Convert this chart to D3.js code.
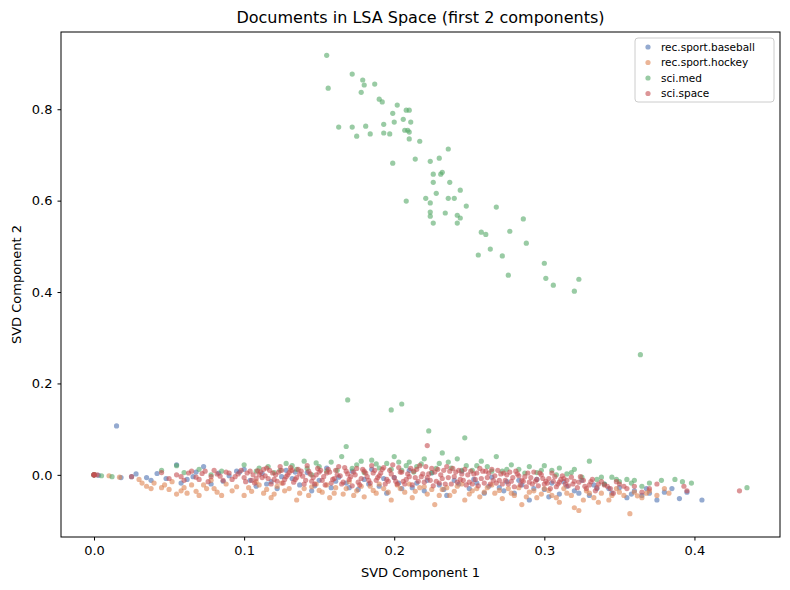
<!DOCTYPE html>
<html><head><meta charset="utf-8">
<script src="https://cdn.jsdelivr.net/npm/d3@7"></script>
<style>body{margin:0;background:#fff;font-family:"DejaVu Sans",sans-serif}</style>
</head><body><svg id="c" width="790" height="590"></svg>
<script>
const categories = ["rec.sport.baseball","rec.sport.hockey","sci.med","sci.space"];
const colors = ["#4c72b0","#dd8452","#55a868","#c44e52"];
const xTicks = [0.0,0.1,0.2,0.3,0.4];
const yTicks = [0.0,0.2,0.4,0.6,0.8];

const baseballPts = [[0,0],[0,0],[0.003,-0.001],[0.015,0.107],[0.018,-0.006],[0.025,-0.004],[0.028,0.002],[0.038,-0.012],[0.042,0.003],[0.048,-0.008],[0.055,0.022],[0.062,-0.01],[0.068,0.006],[0.073,0.018],[0.078,-0.02],[0.083,0.004],[0.09,-0.002],[0.095,0.008],[0.1,0.012],[0.104,-0.012],[0.108,-0.025],[0.112,0.003],[0.118,-0.015],[0.122,-0.03],[0.128,0.01],[0.132,-0.008],[0.137,-0.022],[0.142,0.005],[0.145,-0.035],[0.15,-0.012],[0.155,0.015],[0.158,-0.028],[0.163,-0.005],[0.168,-0.018],[0.172,0.008],[0.176,-0.032],[0.18,-0.01],[0.185,0.012],[0.19,-0.025],[0.195,-0.04],[0.2,-0.006],[0.205,-0.03],[0.21,0.01],[0.215,-0.018],[0.22,-0.035],[0.225,0.004],[0.23,-0.022],[0.235,-0.045],[0.24,-0.012],[0.245,0.008],[0.25,-0.03],[0.255,-0.018],[0.26,-0.04],[0.265,-0.005],[0.27,-0.028],[0.275,-0.015],[0.28,-0.04],[0.285,-0.022],[0.29,-0.055],[0.295,-0.01],[0.3,-0.032],[0.305,-0.018],[0.31,-0.042],[0.315,-0.025],[0.32,-0.035],[0.325,-0.012],[0.33,-0.045],[0.335,-0.03],[0.34,-0.02],[0.345,-0.04],[0.35,-0.028],[0.355,-0.05],[0.36,-0.035],[0.365,-0.045],[0.37,-0.04],[0.375,-0.055],[0.38,-0.038],[0.385,-0.03],[0.39,-0.052],[0.395,-0.038],[0.405,-0.055],
[0.035,-0.006],[0.058,-0.018],[0.066,-0.004],[0.086,-0.014],[0.097,0.006],[0.115,-0.02],[0.125,-0.004],[0.134,0.006],[0.147,-0.024],[0.161,-0.014],[0.17,-0.028],[0.183,-0.02],[0.193,-0.008],[0.203,-0.018],[0.212,-0.028],[0.222,-0.012],[0.233,-0.032],[0.243,-0.02],[0.253,-0.01],[0.263,-0.025],[0.273,-0.035],[0.283,-0.012],[0.293,-0.03],[0.303,-0.048],[0.313,-0.015],[0.323,-0.04],[0.333,-0.022],[0.343,-0.03],[0.358,-0.042],[0.368,-0.03]];

const hockeyPts = [[0,0],[0,0],[0.01,-0.002],[0.017,-0.005],[0.03,-0.01],[0.035,-0.025],[0.04,-0.018],[0.045,-0.028],[0.05,-0.032],[0.052,-0.015],[0.058,-0.035],[0.062,-0.04],[0.065,-0.022],[0.07,-0.045],[0.075,-0.03],[0.078,-0.012],[0.082,-0.038],[0.088,-0.02],[0.092,-0.035],[0.1,-0.045],[0.103,-0.028],[0.108,-0.015],[0.113,-0.04],[0.118,-0.05],[0.122,-0.025],[0.127,-0.035],[0.131,0.01],[0.135,-0.055],[0.14,-0.03],[0.143,-0.045],[0.148,-0.02],[0.152,-0.038],[0.157,-0.05],[0.161,-0.028],[0.166,-0.042],[0.17,-0.015],[0.175,-0.035],[0.18,-0.048],[0.184,-0.025],[0.188,-0.04],[0.193,-0.03],[0.198,-0.055],[0.202,-0.022],[0.207,-0.038],[0.212,-0.05],[0.217,-0.028],[0.222,-0.042],[0.227,-0.065],[0.232,-0.032],[0.237,-0.045],[0.242,-0.025],[0.247,-0.055],[0.252,-0.035],[0.257,-0.048],[0.262,-0.028],[0.267,-0.04],[0.272,-0.052],[0.276,-0.03],[0.28,-0.045],[0.285,-0.065],[0.29,-0.038],[0.295,-0.05],[0.3,-0.03],[0.305,-0.045],[0.31,-0.06],[0.315,-0.04],[0.32,-0.072],[0.323,-0.078],[0.328,-0.035],[0.333,-0.05],[0.338,-0.04],[0.343,-0.055],[0.348,-0.03],[0.353,-0.045],[0.357,-0.085],[0.36,-0.038],[0.365,-0.05],[0.37,-0.035],[0.375,-0.045],[0.38,-0.03],[0.383,-0.04],
[0.032,-0.018],[0.038,-0.03],[0.047,-0.022],[0.055,-0.042],[0.06,-0.028],[0.068,-0.036],[0.073,-0.022],[0.08,-0.03],[0.085,-0.045],[0.095,-0.026],[0.105,-0.036],[0.11,-0.022],[0.115,-0.032],[0.12,-0.042],[0.125,-0.018],[0.13,-0.03],[0.137,-0.04],[0.145,-0.026],[0.15,-0.034],[0.155,-0.022],[0.16,-0.04],[0.168,-0.03],[0.173,-0.045],[0.178,-0.025],[0.186,-0.034],[0.19,-0.02],[0.196,-0.038],[0.204,-0.03],[0.21,-0.02],[0.214,-0.036],[0.22,-0.026],[0.225,-0.032],[0.23,-0.045],[0.235,-0.028],[0.24,-0.036],[0.245,-0.02],[0.25,-0.042],[0.255,-0.03],[0.26,-0.038],[0.265,-0.022],[0.27,-0.034],[0.278,-0.04],[0.283,-0.028],[0.288,-0.048],[0.293,-0.035],[0.298,-0.042],[0.303,-0.034],[0.308,-0.05],[0.313,-0.03],[0.318,-0.045],[0.326,-0.055],[0.33,-0.04],[0.336,-0.06],[0.345,-0.045],[0.35,-0.038],[0.362,-0.046],[0.368,-0.04]];

const medPts = [[0,0],[0.005,-0.002],[0.012,-0.004],[0.045,0.01],[0.055,0.02],[0.06,0.005],[0.07,0.012],[0.078,0.0],[0.085,0.008],[0.1,0.022],[0.11,0.015],[0.12,0.005],[0.128,0.025],[0.135,0.012],[0.14,0.03],[0.145,0.0],[0.15,0.018],[0.158,0.028],[0.162,0.01],[0.165,0.04],[0.168,0.062],[0.175,0.022],[0.18,0.005],[0.185,0.032],[0.19,0.015],[0.195,0.025],[0.2,0.04],[0.205,0.01],[0.21,0.028],[0.215,0.018],[0.22,0.035],[0.225,0.005],[0.23,0.025],[0.232,0.048],[0.238,0.015],[0.242,0.035],[0.248,0.02],[0.252,0.01],[0.258,0.03],[0.262,0.018],[0.268,0.04],[0.272,0.008],[0.278,0.022],[0.283,0.012],[0.29,0.018],[0.295,0.005],[0.3,0.02],[0.305,0.01],[0.31,0.015],[0.315,0.002],[0.32,0.012],[0.325,-0.005],[0.33,0.03],[0.335,-0.01],[0.34,-0.02],[0.345,-0.005],[0.35,-0.015],[0.355,-0.01],[0.36,-0.012],[0.365,-0.025],[0.37,-0.018],[0.378,-0.012],[0.387,-0.01],[0.392,-0.015],[0.398,-0.018],[0.435,-0.028],
[0.108,0.008],[0.116,0.018],[0.124,0.01],[0.132,0.02],[0.142,0.014],[0.148,0.026],[0.155,0.008],[0.172,0.014],[0.178,0.03],[0.188,0.024],[0.198,0.012],[0.203,0.028],[0.208,0.02],[0.213,0.006],[0.218,0.024],[0.228,0.014],[0.236,0.028],[0.245,0.01],[0.255,0.02],[0.265,0.008],[0.275,0.012],[0.287,0.004],[0.298,0.01],[0.308,0.0],[0.318,0.005],[0.338,-0.005],[0.348,-0.01],[0.358,-0.018],
[0.169,0.164],[0.198,0.142],[0.205,0.155],[0.223,0.096],[0.247,0.081],[0.364,0.263],
[0.155,0.918],[0.172,0.877],[0.179,0.864],[0.180,0.853],[0.187,0.855],[0.156,0.846],[0.178,0.837],[0.190,0.822],[0.192,0.816],[0.202,0.809],[0.199,0.791],[0.208,0.798],[0.210,0.798],[0.206,0.778],[0.211,0.772],[0.200,0.772],[0.193,0.767],[0.163,0.761],[0.172,0.761],[0.181,0.763],[0.207,0.754],[0.209,0.754],[0.210,0.750],[0.175,0.741],[0.184,0.746],[0.193,0.748],[0.197,0.746],[0.210,0.735],[0.217,0.730],[0.236,0.713],[0.230,0.693],[0.214,0.691],[0.224,0.686],[0.199,0.682],[0.232,0.662],[0.231,0.658],[0.226,0.658],[0.226,0.640],[0.237,0.640],[0.244,0.623],[0.228,0.616],[0.221,0.605],[0.236,0.605],[0.240,0.605],[0.224,0.595],[0.208,0.599],[0.248,0.588],[0.268,0.586],[0.224,0.575],[0.224,0.566],[0.234,0.573],[0.242,0.568],[0.244,0.562],[0.226,0.551],[0.242,0.551],[0.286,0.560],[0.258,0.531],[0.261,0.526],[0.277,0.533],[0.288,0.507],[0.264,0.494],[0.256,0.481],[0.272,0.479],[0.300,0.463],[0.276,0.437],[0.301,0.430],[0.323,0.428],[0.306,0.415],[0.320,0.402]];

const spacePts = [[0,0],[0,0],[0,0],[0.002,0],[0.025,-0.004],[0.045,0.005],[0.05,-0.008],[0.055,0.0],[0.06,-0.012],[0.065,0.008],[0.068,-0.005],[0.072,0.003],[0.076,-0.015],[0.08,0.01],[0.084,-0.003],[0.088,0.006],[0.092,-0.01],[0.096,0.002],[0.1,-0.006],[0.104,0.008],[0.107,-0.018],[0.11,0.0],[0.113,0.012],[0.116,-0.008],[0.119,0.004],[0.122,-0.014],[0.125,0.01],[0.128,-0.004],[0.131,0.016],[0.134,-0.01],[0.137,0.002],[0.14,-0.02],[0.143,0.008],[0.146,-0.006],[0.149,0.014],[0.152,-0.012],[0.155,0.004],[0.158,-0.018],[0.161,0.01],[0.164,-0.002],[0.167,0.016],[0.17,-0.01],[0.173,0.006],[0.176,-0.016],[0.179,0.012],[0.182,-0.004],[0.185,0.02],[0.188,-0.012],[0.191,0.004],[0.194,-0.02],[0.197,0.01],[0.2,-0.006],[0.203,0.016],[0.206,-0.014],[0.209,0.002],[0.212,-0.022],[0.215,0.012],[0.218,-0.004],[0.221,0.018],[0.222,0.064],[0.224,-0.012],[0.227,0.006],[0.23,-0.018],[0.233,0.01],[0.236,-0.006],[0.239,0.014],[0.242,-0.016],[0.245,0.002],[0.248,-0.022],[0.251,0.008],[0.254,-0.01],[0.257,0.014],[0.26,-0.018],[0.263,0.004],[0.266,-0.012],[0.269,0.01],[0.272,-0.02],[0.275,0.0],[0.278,-0.014],[0.281,0.008],[0.284,-0.022],[0.287,-0.004],[0.29,-0.016],[0.293,0.006],[0.296,-0.024],[0.299,-0.008],[0.302,-0.018],[0.305,0.004],[0.308,-0.026],[0.311,-0.01],[0.314,-0.02],[0.318,-0.005],[0.322,-0.028],[0.326,-0.012],[0.33,-0.022],[0.334,-0.035],[0.338,-0.015],[0.342,-0.025],[0.346,-0.04],[0.35,-0.02],[0.355,-0.03],[0.36,-0.025],[0.365,-0.038],[0.37,-0.03],[0.375,-0.02],[0.393,-0.025],[0.395,-0.035],[0.43,-0.035],
[0.102,0.004],[0.105,-0.012],[0.109,0.009],[0.112,-0.006],[0.115,0.015],[0.118,-0.02],[0.121,0.0],[0.124,0.018],[0.127,-0.01],[0.13,0.005],[0.133,-0.016],[0.136,0.012],[0.139,-0.003],[0.142,0.02],[0.145,-0.014],[0.148,0.0],[0.151,0.01],[0.154,-0.022],[0.157,0.006],[0.16,-0.008],[0.163,0.018],[0.166,-0.016],[0.169,0.002],[0.172,-0.024],[0.175,0.014],[0.178,-0.008],[0.181,0.004],[0.184,-0.018],[0.187,0.01],[0.19,-0.002],[0.193,0.016],[0.196,-0.014],[0.199,0.022],[0.202,-0.02],[0.205,0.006],[0.208,-0.01],[0.211,0.014],[0.214,-0.006],[0.217,0.02],[0.22,-0.016],[0.223,0.002],[0.226,-0.024],[0.229,0.012],[0.232,-0.008],[0.235,0.018],[0.238,-0.02],[0.241,0.006],[0.244,-0.01],[0.247,0.012],[0.25,-0.016],[0.253,0.002],[0.256,-0.024],[0.259,0.008],[0.262,-0.006],[0.265,0.012],[0.268,-0.018],[0.271,0.002],[0.274,-0.012],[0.277,0.006],[0.28,-0.026],[0.283,-0.002],[0.286,-0.014],[0.289,0.004],[0.292,-0.02],[0.295,-0.01],[0.298,0.0],[0.301,-0.014],[0.304,-0.03],[0.307,-0.004],[0.31,-0.016],[0.313,-0.008],[0.316,-0.024],[0.32,-0.014],[0.324,-0.004],[0.328,-0.03],[0.332,-0.01],[0.336,-0.02],
[0.058,-0.004],[0.063,0.004],[0.07,-0.01],[0.074,0.008],[0.078,-0.004],[0.082,0.002],[0.086,-0.012],[0.09,0.004],[0.094,-0.004],[0.098,0.01],[0.101,-0.015],[0.106,0.0],[0.108,-0.008],[0.111,0.006],[0.114,-0.002],[0.117,0.01],[0.12,-0.01],[0.123,0.006],[0.126,-0.018],[0.129,0.0],[0.132,0.01],[0.135,-0.006],[0.138,0.008],[0.141,-0.012],[0.144,0.002],[0.147,-0.02],[0.15,0.006],[0.153,-0.004],[0.156,0.012],[0.159,-0.01],[0.162,0.0],[0.165,-0.02],[0.168,0.008],[0.171,-0.004],[0.174,0.0],[0.177,-0.022],[0.18,0.008],[0.183,-0.012],[0.186,0.004],[0.189,-0.006],[0.192,0.012],[0.195,-0.01],[0.198,0.002],[0.201,-0.014],[0.204,0.006],[0.207,-0.02],[0.21,-0.004],[0.213,0.008],[0.216,-0.014],[0.219,0.002],[0.222,-0.006],[0.225,0.014],[0.228,-0.014],[0.231,0.0],[0.234,-0.02],[0.237,0.008],[0.24,-0.004],[0.243,0.01],[0.246,-0.012],[0.249,0.0],[0.252,-0.02],[0.255,0.004],[0.258,-0.008],[0.261,0.008],[0.264,-0.02],[0.267,-0.002],[0.27,-0.012],[0.273,0.004],[0.276,-0.02],[0.279,-0.006],[0.282,0.002],[0.285,-0.012],[0.288,-0.026],[0.291,-0.006],[0.294,-0.014],[0.297,0.004],[0.3,-0.02],[0.303,-0.008],[0.306,-0.014],[0.309,-0.02],[0.312,-0.002],[0.315,-0.012],[0.319,-0.02],[0.323,-0.016],[0.327,-0.025],[0.331,-0.015],[0.335,-0.028],[0.34,-0.022],[0.344,-0.03],[0.348,-0.015],[0.353,-0.025]];

const seriesPts = [baseballPts, hockeyPts, medPts, spacePts];

const svg = d3.select("#c");
const L=61, T=32, R=780, B=537;
const x = d3.scaleLinear().domain([-0.022,0.457]).range([L,R]);
const y = d3.scaleLinear().domain([-0.136,0.969]).range([B,T]);

seriesPts.forEach((pts,i)=>{
  svg.append("g").selectAll("circle").data(pts).join("circle")
    .attr("cx",d=>x(d[0])).attr("cy",d=>y(d[1])).attr("r",2.6)
    .attr("fill",colors[i]).attr("fill-opacity",0.6);
});

const fmt = d3.format(".1f");
const gx = svg.append("g").attr("transform",`translate(0,${B})`)
  .call(d3.axisBottom(x).tickValues(xTicks).tickFormat(fmt).tickSizeOuter(0).tickSize(3.5).tickPadding(5));
const gy = svg.append("g").attr("transform",`translate(${L},0)`)
  .call(d3.axisLeft(y).tickValues(yTicks).tickFormat(fmt).tickSizeOuter(0).tickSize(3.5).tickPadding(5));
[gx,gy].forEach(g=>{g.select(".domain").remove();g.selectAll("text").attr("font-size",13).attr("font-family","DejaVu Sans").attr("fill","#000");g.selectAll("line").attr("stroke","#000");});
svg.append("rect").attr("x",L).attr("y",T).attr("width",R-L).attr("height",B-T).attr("fill","none").attr("stroke","#000").attr("stroke-width",1);

svg.append("text").attr("x",(L+R)/2).attr("y",23).attr("text-anchor","middle").attr("font-size",16).text("Documents in LSA Space (first 2 components)");
svg.append("text").attr("x",(L+R)/2).attr("y",577).attr("text-anchor","middle").attr("font-size",13).text("SVD Component 1");
svg.append("text").attr("transform",`translate(21,${(T+B)/2}) rotate(-90)`).attr("text-anchor","middle").attr("font-size",13).text("SVD Component 2");

const lg = svg.append("g");
lg.append("rect").attr("x",635).attr("y",38).attr("width",139).attr("height",64).attr("rx",3).attr("fill","#fff").attr("fill-opacity",0.8).attr("stroke","#ccc");
categories.forEach((c,i)=>{
  lg.append("circle").attr("cx",648).attr("cy",47+i*15.5).attr("r",2.6).attr("fill",colors[i]).attr("fill-opacity",0.6);
  lg.append("text").attr("x",661).attr("y",50.5+i*15.5).attr("font-size",10.5).text(c);
});
</script></body></html>
